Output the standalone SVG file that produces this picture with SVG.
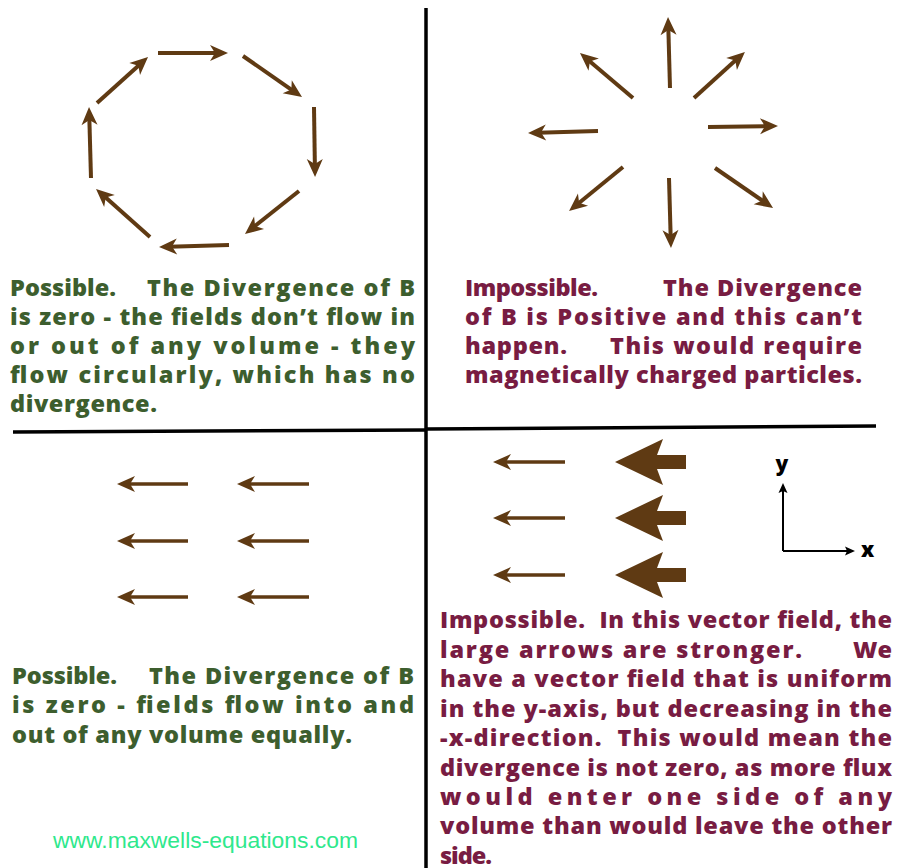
<svg xmlns="http://www.w3.org/2000/svg" width="901" height="868" viewBox="0 0 901 868">
<style>
.t{font-family:"Open Sans",Lato,"DejaVu Sans",sans-serif;font-weight:800;font-size:23.5px}
.g{fill:#3d5e2e}
.m{fill:#781c42}
.a{stroke:#5f3a13;stroke-width:4;fill:none;marker-end:url(#ah)}
.a2{stroke:#5f3a13;stroke-width:3.5;fill:none;marker-end:url(#ah)}
.ax{stroke:#000;stroke-width:2;fill:none;marker-end:url(#axh)}
.div{stroke:#000;stroke-width:3.5;fill:none}
.url{font-family:"Liberation Sans",Arial,sans-serif;font-size:22px;fill:#2ee88c}
</style>
<defs>
<marker id="ah" markerUnits="userSpaceOnUse" orient="auto" markerWidth="40" markerHeight="40" viewBox="-20 -20 40 40" refX="0" refY="0" overflow="visible">
<path d="M10,0 L-8,-8 L-3,0 L-8,8 Z" fill="#5f3a13"/>
</marker>
<marker id="axh" markerUnits="userSpaceOnUse" orient="auto" markerWidth="20" markerHeight="20" viewBox="-10 -10 20 20" refX="0" refY="0" overflow="visible">
<path d="M6,0 L-4,-4.5 L-2,0 L-4,4.5 Z" fill="#000"/>
</marker>
</defs>
<rect width="901" height="868" fill="#fff"/>

<g id="dividers">
<line class="div" x1="426" y1="8" x2="426" y2="868"/>
<line class="div" x1="13" y1="432" x2="426" y2="430"/>
<line class="div" x1="426" y1="429" x2="876" y2="426"/>
</g>

<g id="circular-field">
<path class="a" d="M158,53 L218,53"/>
<path class="a" d="M243,56 L293.8,91.3"/>
<path class="a" d="M314,107 L314.9,167"/>
<path class="a" d="M299,191 L252.8,227.8"/>
<path class="a" d="M229,245 L169,246.7"/>
<path class="a" d="M150,237 L103.5,195.6"/>
<path class="a" d="M91,178 L89.3,117"/>
<path class="a" d="M97,103 L140.6,63.7"/>
</g>

<g id="radial-field">
<path class="a" d="M670,88 L668.3,27"/>
<path class="a" d="M694,98 L737.5,58.6"/>
<path class="a" d="M708,127 L768,126.1"/>
<path class="a" d="M715,168 L764.8,202.3"/>
<path class="a" d="M669,178 L670.7,238"/>
<path class="a" d="M623,167 L576.8,204.7"/>
<path class="a" d="M598,131 L538,132.7"/>
<path class="a" d="M633,98 L587.6,59.5"/>
</g>

<g id="uniform-field">
<path class="a2" d="M188,484 L127,484"/>
<path class="a2" d="M309,484 L247,484"/>
<path class="a2" d="M188,541 L127,541"/>
<path class="a2" d="M309,541 L247,541"/>
<path class="a2" d="M188,597 L127,597"/>
<path class="a2" d="M309,597 L247,597"/>
</g>

<g id="nonuniform-field">
<path class="a2" d="M565,462 L503,462"/>
<path class="a2" d="M565,518 L503,518"/>
<path class="a2" d="M565,575 L503,575"/>
<path fill="#5f3a13" d="M615,462 L663,439 L657,455 L686,455 L686,469 L657,469 L663,485 Z"/>
<path fill="#5f3a13" d="M615,518 L663,495 L657,511 L686,511 L686,525 L657,525 L663,541 Z"/>
<path fill="#5f3a13" d="M615,575 L663,552 L657,568 L686,568 L686,582 L657,582 L663,598 Z"/>
</g>

<g id="axes">
<path class="ax" d="M783,551 L783,489"/>
<path class="ax" d="M783,551 L849,551"/>
<text class="t" x="782" y="471" text-anchor="middle" style="font-size:21px;fill:#000">y</text>
<text class="t" x="861" y="557" style="font-size:21px;fill:#000">x</text>
</g>

<g id="text-top-left" class="t g">
<text x="10" y="296" textLength="106" lengthAdjust="spacing">Possible.</text>
<text x="147" y="296" textLength="268" lengthAdjust="spacing">The Divergence of B</text>
<text x="10" y="325" textLength="405" lengthAdjust="spacing">is zero - the fields don’t flow in</text>
<text x="10" y="354" textLength="405" lengthAdjust="spacing">or out of any volume - they</text>
<text x="10" y="383" textLength="405" lengthAdjust="spacing">flow circularly, which has no</text>
<text x="10" y="412" textLength="147" lengthAdjust="spacing">divergence.</text>
</g>

<g id="text-top-right" class="t m">
<text x="465" y="296" textLength="133" lengthAdjust="spacing">Impossible.</text>
<text x="663" y="296" textLength="199" lengthAdjust="spacing">The Divergence</text>
<text x="465" y="325" textLength="397" lengthAdjust="spacing">of B is Positive and this can’t</text>
<text x="465" y="354" textLength="102" lengthAdjust="spacing">happen.</text>
<text x="610" y="354" textLength="252" lengthAdjust="spacing">This would require</text>
<text x="465" y="383" textLength="397" lengthAdjust="spacing">magnetically charged particles.</text>
</g>

<g id="text-bottom-left" class="t g">
<text x="12" y="684" textLength="105" lengthAdjust="spacing">Possible.</text>
<text x="149" y="684" textLength="265" lengthAdjust="spacing">The Divergence of B</text>
<text x="12" y="713" textLength="402" lengthAdjust="spacing">is zero - fields flow into and</text>
<text x="12" y="743" textLength="340" lengthAdjust="spacing">out of any volume equally.</text>
</g>

<text class="url" x="53" y="848" textLength="305" lengthAdjust="spacingAndGlyphs">www.maxwells-equations.com</text>

<g id="text-bottom-right" class="t m">
<text x="440" y="628" textLength="452" lengthAdjust="spacing" xml:space="preserve">Impossible.  In this vector field, the</text>
<text x="440" y="657.5" textLength="362" lengthAdjust="spacing">large arrows are stronger.</text>
<text x="892" y="657.5" text-anchor="end">We</text>
<text x="440" y="687" textLength="452" lengthAdjust="spacing">have a vector field that is uniform</text>
<text x="440" y="716.5" textLength="452" lengthAdjust="spacing">in the y-axis, but decreasing in the</text>
<text x="440" y="746" textLength="452" lengthAdjust="spacing" xml:space="preserve">-x-direction.  This would mean the</text>
<text x="440" y="775.5" textLength="452" lengthAdjust="spacing">divergence is not zero, as more flux</text>
<text x="440" y="805" textLength="452" lengthAdjust="spacing">would enter one side of any</text>
<text x="440" y="834" textLength="452" lengthAdjust="spacing">volume than would leave the other</text>
<text x="440" y="864" textLength="52" lengthAdjust="spacing">side.</text>
</g>
</svg>
